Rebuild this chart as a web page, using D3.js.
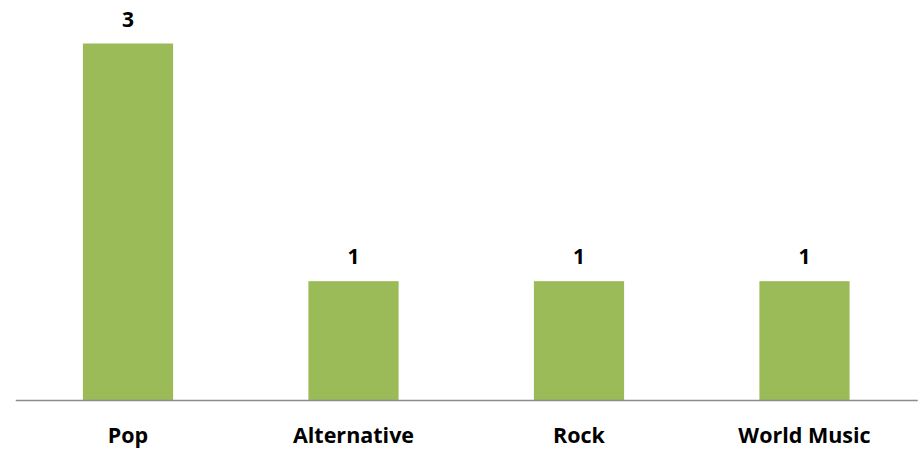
<!DOCTYPE html>
<html><head><meta charset="utf-8">
<script src="https://cdn.jsdelivr.net/npm/d3@7"></script>
<style>body{margin:0;background:#fff}</style>
</head><body>
<svg id="c" width="921" height="449"></svg>
<script>
const categories = ["Pop", "Alternative", "Rock", "World Music"];
const values = [3, 1, 1, 1];

const svg = d3.select("#c");
const x = d3.scaleBand().domain(categories).range([15.25, 917.25]).paddingInner(0.6).paddingOuter(0.3);
const y = d3.scaleLinear().domain([0, 3]).range([400, 43.5]);

svg.append("g").selectAll("rect").data(categories).join("rect")
  .attr("x", d => x(d)).attr("width", x.bandwidth())
  .attr("y", (d, i) => y(values[i])).attr("height", (d, i) => y(0) - y(values[i]))
  .attr("fill", "#9BBB59");

const ax = svg.append("g").attr("transform", "translate(0,400)")
  .call(d3.axisBottom(x).tickSize(0).tickPadding(0));
ax.select(".domain").attr("stroke", "#8c8c8c").attr("stroke-width", 1.5);
ax.selectAll("text").attr("dy", 0).attr("y", 43)
  .attr("font-family", "'Open Sans', sans-serif").attr("font-weight", "bold")
  .attr("font-size", 21.5).attr("fill", "#000");

svg.append("g").selectAll("text").data(categories).join("text")
  .attr("x", d => x(d) + x.bandwidth() / 2)
  .attr("y", (d, i) => y(values[i]) - 17)
  .attr("text-anchor", "middle")
  .attr("font-family", "'Open Sans', sans-serif").attr("font-weight", "bold")
  .attr("font-size", 21).attr("fill", "#000")
  .text((d, i) => values[i]);
</script>
</body></html>
